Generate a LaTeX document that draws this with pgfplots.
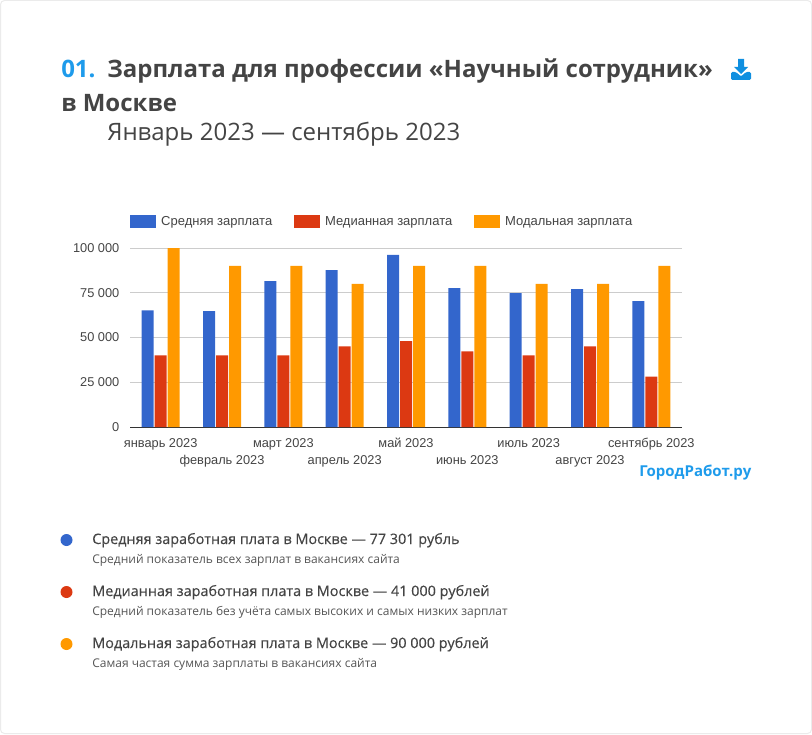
\documentclass[border=0pt]{standalone}
\usepackage{fontspec}
\setmainfont{Open Sans}
\newfontfamily\chartfont{Liberation Sans}
\newfontfamily\medfont[FakeBold=0.25]{Open Sans}
\usepackage{pgfplots}
\pgfplotsset{compat=1.18}
\usepackage{pgfplotstable}

\definecolor{cblue}{HTML}{3366CC}
\definecolor{cred}{HTML}{DC3912}
\definecolor{corange}{HTML}{FF9900}
\definecolor{txtdark}{HTML}{444444}
\definecolor{txtmid}{HTML}{555555}
\definecolor{brand}{HTML}{1E9BEB}
\definecolor{iconblue}{HTML}{0F8FE0}

% month, mean, median, mode
\pgfplotstableread{
x mean median mode
0 65200 40000 100000
1 64700 40000 90000
2 81500 40000 90000
3 87700 45000 80000
4 96100 48000 90000
5 77600 42200 90000
6 74800 40000 80000
7 77000 45000 80000
8 70300 28200 90000
}\salary

\newcommand{\low}[1]{\raisebox{-12.75pt}[0pt][0pt]{#1}}

\begin{document}
\begin{tikzpicture}
\begin{scope}[x=0.75pt,y=-0.75pt]
\path[use as bounding box] (0,0) rectangle (812,734);
\draw[color=black!8,line width=0.75pt,rounded corners=3pt] (0.5,0.5) rectangle (811.5,733.5);

% heading
\node[anchor=base west,inner sep=0,font=\fontsize{18}{20}\selectfont\bfseries,text=brand] at (61,78) {01.};
\node[anchor=base west,inner sep=0,font=\fontsize{18}{20}\selectfont\bfseries,text=txtdark] at (107,78) {Зарплата для профессии «Научный сотрудник»};
\node[anchor=base west,inner sep=0,font=\fontsize{18}{20}\selectfont\bfseries,text=txtdark] at (61,112) {в Москве};
\node[anchor=base west,inner sep=0,font=\fontsize{18}{20}\selectfont,text=txtdark] at (107,141) {Январь 2023 — сентябрь 2023};

% download icon
\fill[iconblue] (738,59) rectangle (744,67) -- (748,67) -- (741,74) -- (734,67) -- (738,67) -- cycle;
\fill[iconblue,rounded corners=1pt] (731,72) -- (736,72) -- (741,76.5) -- (746,72) -- (751,72) -- (751,80) -- (731,80) -- cycle;

% brand mark
\node[anchor=base west,inner sep=0,font=\fontsize{11.25}{13}\selectfont\bfseries,text=brand] at (639,476) {ГородРабот.ру};

% notes under the chart
\fill[cblue] (66.5,540) circle (6);
\fill[cred] (66.5,592) circle (6);
\fill[corange] (66.5,644) circle (6);
\node[anchor=base west,inner sep=0,font=\medfont\fontsize{10.8}{12}\selectfont,text=txtdark] at (92,544) {Средняя заработная плата в Москве — 77 301 рубль};
\node[anchor=base west,inner sep=0,font=\fontsize{9}{11}\selectfont,text=txtmid] at (92,563) {Средний показатель всех зарплат в вакансиях сайта};
\node[anchor=base west,inner sep=0,font=\medfont\fontsize{10.8}{12}\selectfont,text=txtdark] at (92,596) {Медианная заработная плата в Москве — 41 000 рублей};
\node[anchor=base west,inner sep=0,font=\fontsize{9}{11}\selectfont,text=txtmid] at (92,615) {Средний показатель без учёта самых высоких и самых низких зарплат};
\node[anchor=base west,inner sep=0,font=\medfont\fontsize{10.8}{12}\selectfont,text=txtdark] at (92,648) {Модальная заработная плата в Москве — 90 000 рублей};
\node[anchor=base west,inner sep=0,font=\fontsize{9}{11}\selectfont,text=txtmid] at (92,667) {Самая частая сумма зарплаты в вакансиях сайта};
\end{scope}

\begin{axis}[
  at={(97.5pt,-320.25pt)},
  anchor=south west,
  scale only axis,
  width=414pt,
  height=134.25pt,
  ybar=0.75pt,
  bar width=9pt,
  xmin=-0.5, xmax=8.5,
  ymin=0, ymax=100000,
  xtick={0,...,8},
  xticklabels={январь 2023,\low{февраль 2023},март 2023,\low{апрель 2023},май 2023,\low{июнь 2023},июль 2023,\low{август 2023},сентябрь 2023},
  ytick={0,25000,50000,75000,100000},
  scaled y ticks=false,
  /pgf/number format/.cd,fixed,1000 sep={\ },assume math mode=true,
  /pgfplots/.cd,
  axis x line=bottom,
  axis y line=left,
  axis line style={-},
  x axis line style={draw=black!80,line width=0.75pt},
  y axis line style={draw=none},
  major tick length=0pt,
  ymajorgrids,
  grid style={draw=black!20,line width=0.75pt},
  tick label style={font=\chartfont\fontsize{9.6}{10}\selectfont,text=txtdark},
  xticklabel style={anchor=north,text height=7pt,text depth=0pt,inner sep=0pt,yshift=-8pt},
  yticklabel style={xshift=-4.5pt},
  legend columns=3,
  legend style={
    at={(0,1)},anchor=south west,yshift=13.5pt,draw=none,fill=none,inner sep=0pt,outer sep=0pt,
    font=\chartfont\fontsize{9.75}{10}\selectfont,text=txtdark,
    /tikz/every even column/.append style={column sep=14.2pt},
    /tikz/every odd column/.append style={column sep=1.9pt},
  },
  legend image code/.code={\fill[#1,draw=none] (0pt,-4.9pt) rectangle (19.5pt,4.9pt);},
]
\addplot[fill=cblue,draw=none] table[x=x,y=mean] {\salary};
\addplot[fill=cred,draw=none] table[x=x,y=median] {\salary};
\addplot[fill=corange,draw=none] table[x=x,y=mode] {\salary};
\legend{Средняя зарплата,Медианная зарплата,Модальная зарплата}
\end{axis}
\end{tikzpicture}
\end{document}
